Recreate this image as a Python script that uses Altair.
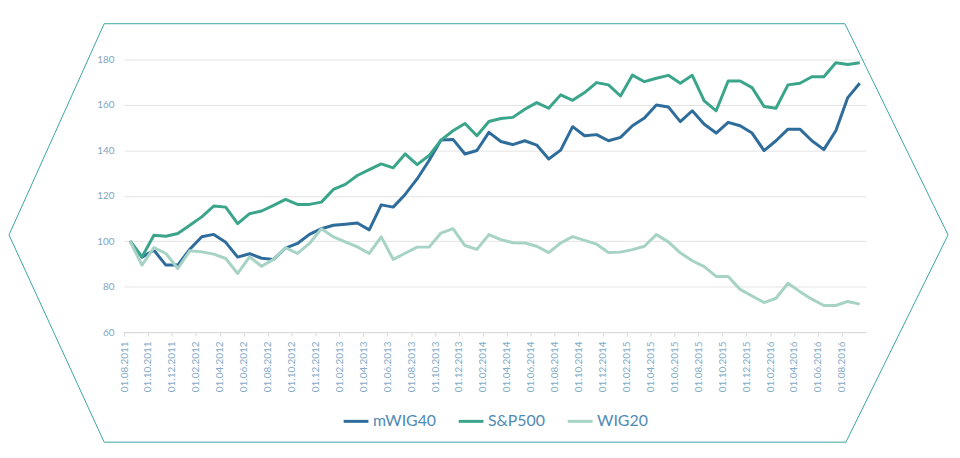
import json
import altair as alt
import pandas as pd

# monthly dates 01.08.2011 .. 01.09.2016
dates = []
for k in range(62):
    m = (7 + k) % 12 + 1
    y = 2011 + (7 + k) // 12
    dates.append(f"01.{m:02d}.{y}")

series_names = ["mWIG40", "S&P500", "WIG20"]

mwig40 = [100, 93, 96, 89.5, 89.5, 96.5, 102, 103, 99.5, 93, 94.5, 92.5, 92, 97, 99, 103,
          105.5, 107, 107.5, 108, 105, 116, 115, 120.6, 127.4, 135.5, 144.5, 144.8, 138.4,
          139.9, 147.9, 143.9, 142.5, 144.2, 142.3, 136.2, 140.1, 150.4, 146.4, 146.9, 144.2,
          145.7, 150.8, 154.2, 159.9, 159.1, 152.6, 157.4, 151.5, 147.6, 152.3, 150.8, 147.6,
          139.9, 144.2, 149.3, 149.3, 144.2, 140.3, 148.6, 163.2, 169.5]

sp500 = [100, 93.1, 102.6, 102.2, 103.4, 107, 110.7, 115.5, 115, 107.7, 112.1, 113.3, 115.8,
         118.4, 116.2, 116.2, 117.2, 122.8, 125, 128.9, 131.5, 134, 132.3, 138.4, 133.7, 137.7,
         144.5, 148.6, 151.8, 146.4, 152.7, 154, 154.5, 158.1, 161, 158.5, 164.4, 162, 165.4,
         169.8, 168.8, 163.9, 173.1, 170.2, 171.7, 173, 169.5, 173, 161.8, 157.4, 170.5, 170.5,
         167.6, 159.3, 158.5, 168.8, 169.5, 172.4, 172.4, 178.5, 177.8, 178.5]

wig20 = [100, 89.5, 97.2, 94.6, 88, 95.8, 95.3, 94.3, 92.4, 85.8, 93.1, 89, 92, 97.2, 94.6, 99,
         105.5, 101.9, 99.7, 97.5, 94.6, 101.9, 92, 94.7, 97.4, 97.4, 103.6, 105.5, 98.1, 96.4,
         102.9, 100.7, 99.3, 99.2, 97.8, 95, 99.2, 102, 100.4, 98.7, 95, 95.2, 96.3, 97.8, 102.9,
         99.7, 94.9, 91.4, 88.8, 84.5, 84.5, 78.8, 75.9, 73, 74.9, 81.5, 77.8, 74.5, 71.7, 71.7,
         73.5, 72.3]

colors = ["#2e6c9c", "#3aa58a", "#a6d3c5"]

rows = []
for name, vals in zip(series_names, [mwig40, sp500, wig20]):
    for i, v in enumerate(vals):
        rows.append({"idx": i, "date": dates[i], "series": name, "value": v})
df = pd.DataFrame(rows)

label_expr = json.dumps(dates) + "[datum.value]"
tick_vals = list(range(0, 62, 2))

lines = alt.Chart(df).mark_line(strokeWidth=3, strokeJoin="round").encode(
    x=alt.X("idx:Q", scale=alt.Scale(domain=[-0.5, 61.5], nice=False, zero=False),
            axis=alt.Axis(values=tick_vals, labelExpr=label_expr, title=None, grid=False,
                          labelAngle=-90, labelAlign="right", labelBaseline="middle",
                          labelFont="Lato", labelFontSize=10, labelColor="#7fabc8",
                          domainColor="#d9d9d9", tickColor="#d9d9d9", tickSize=4,
                          tickOffset=-6, labelPadding=5, labelOverlap=False,
                          labelFlush=False, labelBound=False)),
    y=alt.Y("value:Q", scale=alt.Scale(domain=[60, 180], nice=False, zero=False),
            axis=alt.Axis(values=[60, 80, 100, 120, 140, 160, 180], title=None,
                          domain=False, ticks=False, gridColor="#e3e3e3",
                          labelFont="Lato", labelFontSize=10, labelColor="#7fa3bf",
                          labelPadding=10)),
    color=alt.Color("series:N", sort=series_names,
                    scale=alt.Scale(domain=series_names, range=colors),
                    legend=alt.Legend(title=None, orient="none", direction="horizontal",
                                      legendX=220, legendY=351, symbolType="stroke",
                                      symbolSize=625, symbolStrokeWidth=3,
                                      labelFont="Lato", labelFontSize=16,
                                      labelColor="#4f8ab3", labelOffset=3,
                                      columnPadding=16)),
    order=alt.Order("idx:Q"),
)

# decorative hexagon frame (in pixel coordinates of the plot area)
hex_df = pd.DataFrame({
    "hx": [-116, -20, 727, 831, 728, -20, -116],
    "hy": [177, -36, -36, 177, 386, 386, 177],
    "k": list(range(7)),
})
hexagon = alt.Chart(hex_df).mark_line(color="#3aa6a2", strokeWidth=1, clip=False).encode(
    x=alt.X("hx:Q", scale=None, axis=None),
    y=alt.Y("hy:Q", scale=None, axis=None),
    order=alt.Order("k:Q"),
)

chart = alt.layer(hexagon, lines).resolve_scale(x="independent", y="independent").properties(
    width=748, height=275,
    autosize=alt.AutoSizeParams(type="none"),
    padding={"left": 117, "top": 50, "right": 87, "bottom": 112},
    background="white",
).configure_view(stroke=None)

chart.save("out.html", embed_options={"renderer": "svg", "actions": False})
